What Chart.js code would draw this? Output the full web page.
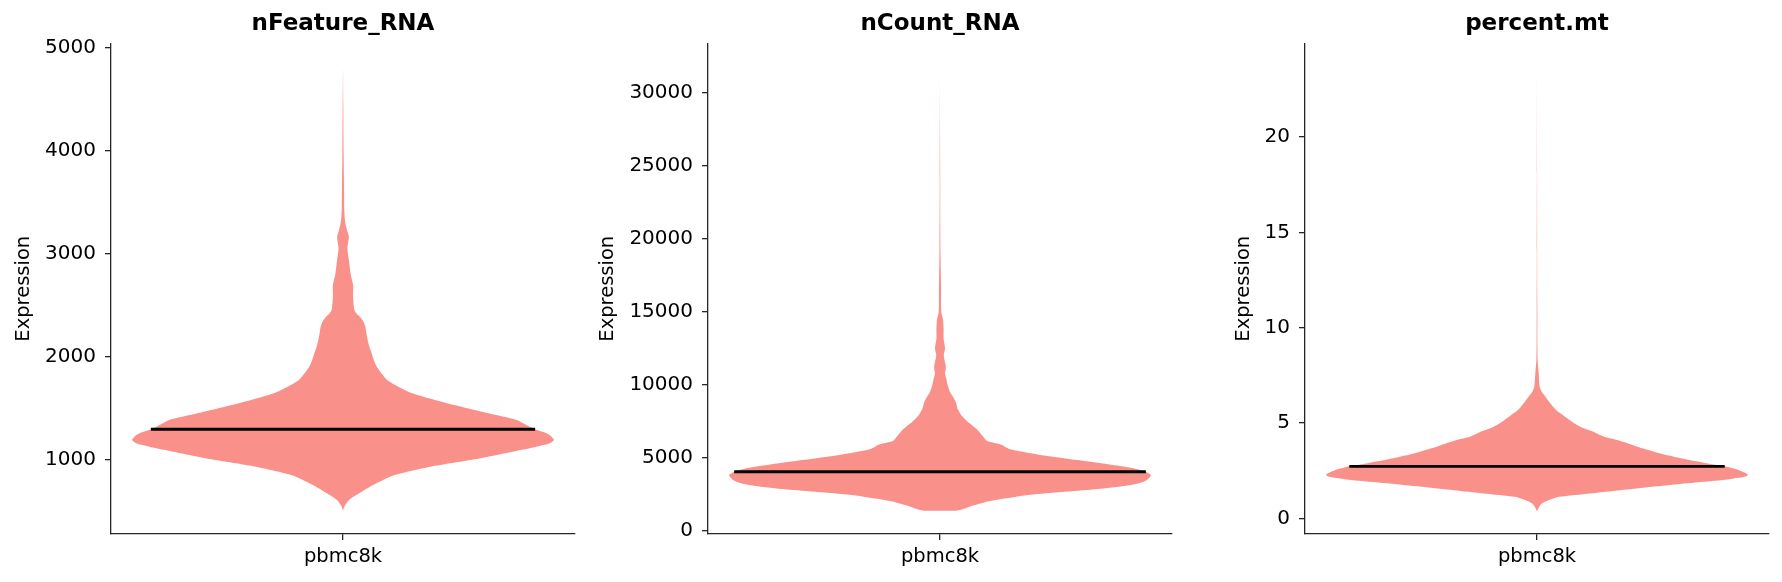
<!DOCTYPE html>
<html>
<head>
<meta charset="utf-8">
<script src="https://cdn.jsdelivr.net/npm/chart.js@4.4.1/dist/chart.umd.min.js"></script>
<style>
  html, body { margin: 0; padding: 0; background: #ffffff; width: 1782px; height: 582px; overflow: hidden; }
  body { position: relative; }
  .panel { position: absolute; top: 0; height: 582px; }
  canvas { display: block; }
</style>
</head>
<body>
<div class="panel" id="p0"><canvas id="c0"></canvas></div>
<div class="panel" id="p1"><canvas id="c1"></canvas></div>
<div class="panel" id="p2"><canvas id="c2"></canvas></div>
<script>
// ---------------- data ----------------
const categories = ['pbmc8k'];
const panelTitles = ['nFeature_RNA', 'nCount_RNA', 'percent.mt'];
const yAxisTitle = 'Expression';

// nFeature_RNA : violin outline (value levels, relative half-width 0..1)
const featureLevels = [498, 540, 605, 670, 735, 800, 832, 865, 897, 929, 962, 994, 1026, 1059, 1091, 1124, 1157, 1189, 1221, 1254, 1293, 1318, 1383, 1448, 1512, 1578, 1643, 1707, 1772, 1837, 1901, 1966, 2032, 2096, 2161, 2226, 2290, 2339, 2388, 2421, 2453, 2582, 2696, 2793, 2922, 3052, 3165, 3214, 3311, 3441, 3636, 3960, 4446, 4825];
const featureWidths = [0, 0.006, 0.029, 0.076, 0.128, 0.190, 0.223, 0.276, 0.342, 0.414, 0.509, 0.604, 0.689, 0.770, 0.842, 0.918, 0.980, 1.000, 0.989, 0.965, 0.911, 0.884, 0.823, 0.690, 0.561, 0.436, 0.328, 0.262, 0.209, 0.182, 0.160, 0.146, 0.136, 0.125, 0.117, 0.111, 0.106, 0.097, 0.079, 0.063, 0.054, 0.048, 0.048, 0.037, 0.029, 0.021, 0.028, 0.021, 0.010, 0.006, 0.005, 0.003, 0.0015, 0];
const featureMedian = 1293;
const featureTicks = [1000, 2000, 3000, 4000, 5000];

// nCount_RNA
const countLevels = [1385, 1454, 1682, 1916, 2026, 2488, 2881, 3155, 3405, 3797, 4052, 4328, 4673, 5127, 5589, 5934, 6161, 6506, 6968, 7429, 7884, 8346, 8808, 9152, 9497, 9952, 10413, 10758, 11220, 12020, 12481, 13170, 13860, 14500, 15000, 16733, 19028, 24000, 32054];
const countWidths = [0.076, 0.100, 0.143, 0.200, 0.224, 0.429, 0.748, 0.905, 0.971, 1.000, 0.976, 0.905, 0.748, 0.510, 0.333, 0.286, 0.224, 0.202, 0.175, 0.135, 0.103, 0.084, 0.075, 0.063, 0.048, 0.037, 0.030, 0.024, 0.028, 0.018, 0.024, 0.017, 0.017, 0.014, 0.006, 0.005, 0.0025, 0.0012, 0];
const countMedian = 4052;
const countTicks = [0, 5000, 10000, 15000, 20000, 25000, 30000];

// percent.mt
const mitoLevels = [0.38, 0.61, 0.79, 0.96, 1.13, 1.31, 1.48, 1.66, 1.84, 2.01, 2.18, 2.29, 2.53, 2.73, 2.88, 3.15, 3.41, 3.67, 3.93, 4.11, 4.28, 4.55, 4.72, 4.98, 5.16, 5.42, 5.68, 6.03, 6.38, 6.64, 6.90, 7.60, 8.30, 9.0, 11.0, 14.0, 18.0, 23.7];
const mitoWidths = [0, 0.011, 0.024, 0.056, 0.105, 0.252, 0.395, 0.548, 0.714, 0.881, 0.984, 1.000, 0.956, 0.890, 0.810, 0.682, 0.580, 0.500, 0.432, 0.381, 0.318, 0.265, 0.222, 0.178, 0.154, 0.122, 0.090, 0.063, 0.040, 0.022, 0.013, 0.008, 0.003, 0.002, 0.0015, 0.0008, 0.0005, 0];
const mitoMedian = 2.73;
const mitoTicks = [0, 5, 10, 15, 20];

// ---------------- layout / style ----------------
const PANEL_LEFT = [110.5, 707.6, 1305.1];
const PLOT_W = 463.5;
const Y_BLOCK = 125;
const RIGHT_PAD = 10;
const Y_RANGES = [[274.7, 5043], [-205, 33351], [-0.82, 24.9]];
const Y_TITLE_PAD = [26.6, 13.5, 52.0];
const FILL = 'rgb(249,145,138)';
const AXIS = '#262626';
const FONT = "'DejaVu Sans', 'Liberation Sans', sans-serif";

function halfWidthAt(levels, widths, v) {
  for (let i = 0; i < levels.length - 1; i++) {
    if (v >= levels[i] && v <= levels[i + 1]) {
      const t = (v - levels[i]) / (levels[i + 1] - levels[i]);
      return widths[i] + t * (widths[i + 1] - widths[i]);
    }
  }
  return 0;
}

function build(idx, levels, widths, median, ticks) {
  const outline = [];
  for (let i = 0; i < levels.length; i++) outline.push({ x: widths[i], y: levels[i] });
  for (let i = levels.length - 1; i >= 0; i--) outline.push({ x: -widths[i], y: levels[i] });
  const mw = halfWidthAt(levels, widths, median);

  const canvas = document.getElementById('c' + idx);
  const holder = document.getElementById('p' + idx);
  const cw = Math.round(Y_BLOCK + PLOT_W + RIGHT_PAD);
  holder.style.left = (PANEL_LEFT[idx] - Y_BLOCK) + 'px';
  holder.style.width = cw + 'px';
  canvas.width = cw; canvas.height = 582;
  canvas.style.width = cw + 'px'; canvas.style.height = '582px';

  const gridOpts = { drawOnChartArea: false, drawTicks: true, tickLength: 6, color: AXIS, lineWidth: 1.3 };
  const borderOpts = { display: true, color: AXIS, width: 1.3 };

  new Chart(canvas, {
    type: 'scatter',
    data: {
      datasets: [
        {
          data: outline, showLine: true, fill: 'shape', backgroundColor: FILL,
          borderColor: 'rgba(0,0,0,0)', borderWidth: 0.01, borderDash: [4, 0],
          pointRadius: 0, pointHoverRadius: 0, tension: 0.25, order: 2
        },
        {
          data: [{ x: -mw, y: median }, { x: mw, y: median }], showLine: true, fill: false,
          borderColor: '#000000', borderWidth: 2.8, borderCapStyle: 'butt',
          pointRadius: 0, pointHoverRadius: 0, order: 1
        }
      ]
    },
    options: {
      responsive: false, animation: false, devicePixelRatio: 1,
      events: [],
      layout: { padding: { left: 0, right: RIGHT_PAD, top: 0, bottom: 0 } },
      plugins: {
        legend: { display: false },
        tooltip: { enabled: false },
        title: {
          display: true, text: panelTitles[idx], fullSize: false, color: '#000000',
          font: { family: FONT, size: 23, weight: 'bold', lineHeight: 1.2 },
          padding: { top: 10.2, bottom: 5.7 }
        }
      },
      scales: {
        x: {
          type: 'linear', min: -1.1, max: 1.1,
          afterBuildTicks: s => { s.ticks = categories.map((c, i) => ({ value: i })); },
          ticks: { callback: (v, i) => categories[i], color: '#000000', font: { family: FONT, size: 19.5 }, padding: 5.3, maxRotation: 0, autoSkip: false },
          grid: gridOpts, border: borderOpts,
          afterFit: s => { s.height = 48; }
        },
        y: {
          type: 'linear', min: Y_RANGES[idx][0], max: Y_RANGES[idx][1],
          afterBuildTicks: s => { s.ticks = ticks.map(v => ({ value: v })); },
          ticks: { callback: v => String(v), color: '#000000', font: { family: FONT, size: 20 }, padding: 9, autoSkip: false },
          grid: gridOpts, border: borderOpts,
          title: { display: true, text: yAxisTitle, color: '#000000', font: { family: FONT, size: 19.5, lineHeight: 1.2 }, padding: { top: Y_TITLE_PAD[idx], bottom: 0 } },
          afterFit: s => { s.width = Y_BLOCK; }
        }
      }
    }
  });
}

build(0, featureLevels, featureWidths, featureMedian, featureTicks);
build(1, countLevels, countWidths, countMedian, countTicks);
build(2, mitoLevels, mitoWidths, mitoMedian, mitoTicks);
</script>
</body>
</html>
